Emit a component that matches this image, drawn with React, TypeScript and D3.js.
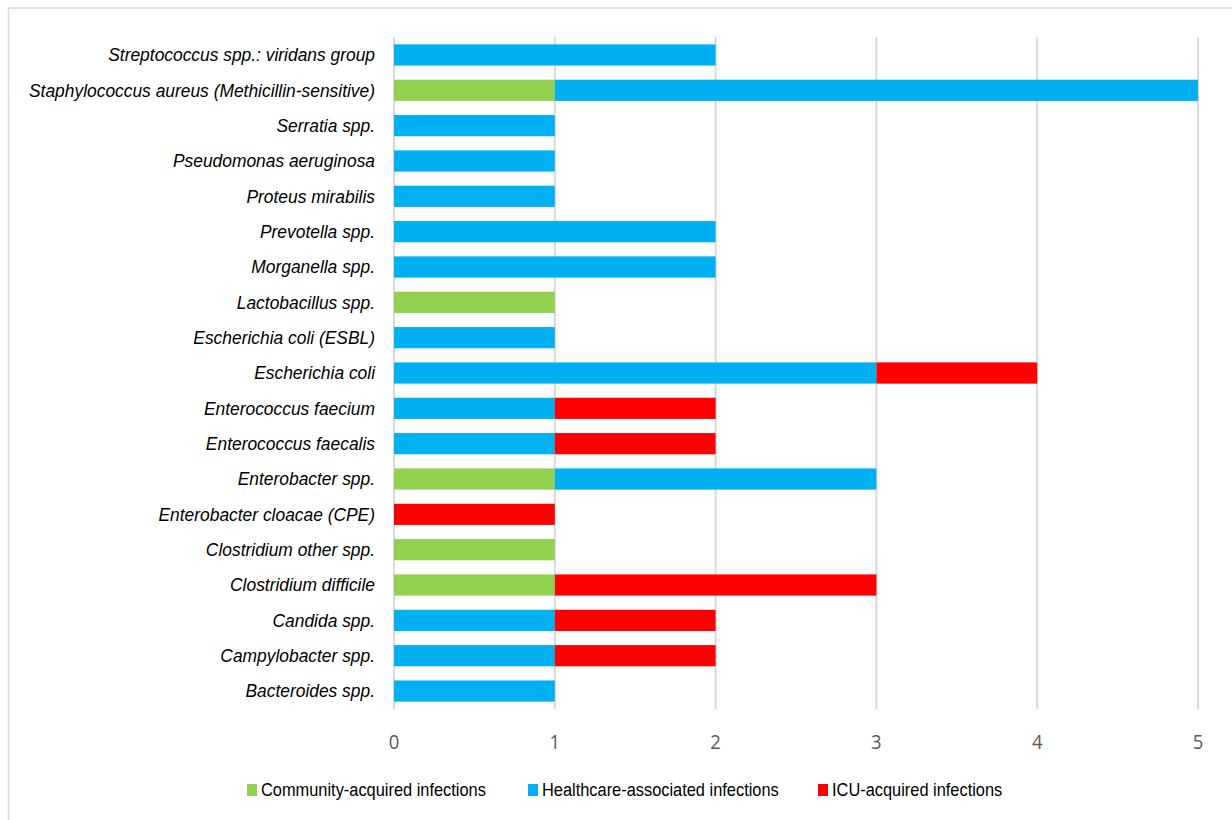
import React, { useEffect } from "react";
import * as d3 from "d3";

const categories = [
  "Streptococcus spp.: viridans group",
  "Staphylococcus aureus (Methicillin-sensitive)",
  "Serratia spp.",
  "Pseudomonas aeruginosa",
  "Proteus mirabilis",
  "Prevotella spp.",
  "Morganella spp.",
  "Lactobacillus spp.",
  "Escherichia coli (ESBL)",
  "Escherichia coli",
  "Enterococcus faecium",
  "Enterococcus faecalis",
  "Enterobacter spp.",
  "Enterobacter cloacae (CPE)",
  "Clostridium other spp.",
  "Clostridium difficile",
  "Candida spp.",
  "Campylobacter spp.",
  "Bacteroides spp.",
];

const community = [0, 1, 0, 0, 0, 0, 0, 1, 0, 0, 0, 0, 1, 0, 1, 1, 0, 0, 0];
const healthcare = [2, 4, 1, 1, 1, 2, 2, 0, 1, 3, 1, 1, 2, 0, 0, 0, 1, 1, 1];
const icu = [0, 0, 0, 0, 0, 0, 0, 0, 0, 1, 1, 1, 0, 1, 0, 2, 1, 1, 0];

const seriesNames = [
  "Community-acquired infections",
  "Healthcare-associated infections",
  "ICU-acquired infections",
];
const seriesColors = ["#92D050", "#00B0F0", "#FF0000"];
const xTicks = [0, 1, 2, 3, 4, 5];

export default function App() {
  useEffect(() => {
    document.body.style.margin = "0";
    document.documentElement.style.overflow = "hidden";
  }, []);

  const W = 1232;
  const H = 820;
  const x = d3.scaleLinear().domain([0, 5]).range([394, 1198]);
  const y = d3.scaleBand<string>().domain(categories).range([37.3, 708.7]).paddingInner(0.4).paddingOuter(0.2);

  const rows = categories.map((c, i) => ({ c, vals: [community[i], healthcare[i], icu[i]] }));
  const stack = d3.stack<any>().keys(["0", "1", "2"]).value((d: any, k: string) => d.vals[+k]);
  const stacked = stack(rows as any);

  const legendX = [247, 528, 818];

  return (
    <svg width={W} height={H} style={{ display: "block" }}>
      <rect x={0} y={0} width={W} height={H} fill="#ffffff" />
      <rect x={8.5} y={8} width={1300} height={900} fill="#ffffff" stroke="#d9d9d9" strokeWidth={1.5} />
      {xTicks.map((t) => (
        <line key={t} x1={x(t)} x2={x(t)} y1={37} y2={709} stroke="#d9d9d9" strokeWidth={2} />
      ))}
      {stacked.map((s, si) =>
        s.map((d, i) =>
          d[1] - d[0] > 0 ? (
            <rect
              key={si + "-" + i}
              x={x(d[0])}
              y={y(categories[i])!}
              width={x(d[1]) - x(d[0])}
              height={y.bandwidth()}
              fill={seriesColors[si]}
            />
          ) : null
        )
      )}
      {categories.map((c) => (
        <text
          key={c}
          transform={`translate(375,${y(c)! + y.bandwidth() / 2}) scale(1,1.05)`}
          textAnchor="end"
          dy="0.35em"
          fontFamily="'Liberation Sans', Arial, sans-serif"
          fontStyle="italic"
          fontSize={17.4}
          fill="#000000"
        >
          {c}
        </text>
      ))}
      {xTicks.map((t) => (
        <text
          key={"t" + t}
          transform={`translate(${x(t)},741.5) scale(1,1.12)`}
          textAnchor="middle"
          dy="0.35em"
          fontFamily="'Open Sans', sans-serif"
          fontSize={18.5}
          fill="#595959"
        >
          {t}
        </text>
      ))}
      {seriesNames.map((n, i) => (
        <g key={n}>
          <rect x={legendX[i]} y={784} width={10} height={12} fill={seriesColors[i]} />
          <text
            transform={`translate(${legendX[i] + 14},790) scale(1,1.1)`}
            dy="0.35em"
            fontFamily="'Liberation Sans', Arial, sans-serif"
            fontSize={16.4}
            fill="#000000"
          >
            {n}
          </text>
        </g>
      ))}
    </svg>
  );
}
